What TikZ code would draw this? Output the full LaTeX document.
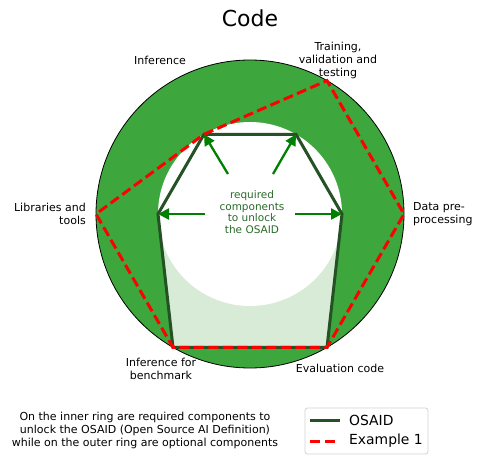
\documentclass[tikz,border=0pt]{standalone}
\usepackage{fontspec}
\setmainfont{DejaVu Sans}
\usetikzlibrary{arrows.meta}
\definecolor{ringgreen}{HTML}{3DA63D}
\definecolor{lightfill}{HTML}{D8EBD6}
\definecolor{osaidline}{HTML}{245224}
\definecolor{arrowgreen}{HTML}{008000}
\definecolor{centertext}{HTML}{2A6A2A}
\tikzset{
  lbl/.style={font=\fontsize{11}{13}\selectfont, align=center, inner sep=0pt},
  osaid/.style={draw=osaidline, line width=3pt, line join=miter},
  example/.style={draw=red, line width=3pt, dash pattern=on 10pt off 4.5pt},
  reqarrow/.style={draw=arrowgreen, line width=2.3pt, -{Triangle[length=11pt,width=11pt]}},
}
\begin{document}
\begin{tikzpicture}[x=1pt,y=-1pt]
\useasboundingbox (0,0) rectangle (483,464);
\coordinate (C) at (250,214);
% inner points
\coordinate (i60) at (296,134.3);
\coordinate (i120) at (204,134.3);
\coordinate (i0) at (342,214);
\coordinate (i180) at (158,214);
% outer points
\coordinate (o60) at (327,80.6);
\coordinate (o0) at (404,214);
\coordinate (om60) at (327,347.4);
\coordinate (om120) at (173,347.4);
\coordinate (o180) at (96,214);
% rings
\fill[ringgreen] (C) circle[radius=154];
\fill[lightfill] (i120) -- (i60) -- (i0) -- (om60) -- (om120) -- (i180) -- cycle;
\fill[white] (C) circle[radius=92];
\draw[black, line width=0.8pt] (C) circle[radius=154];
% OSAID polygon
\draw[osaid] (i120) -- (i60) -- (i0) -- (om60) -- (om120) -- (i180) -- cycle;
% Example 1
\draw[example] (i120) -- (o60) -- (o0) -- (om60) -- (om120) -- (o180) -- cycle;
% title
\node[font=\fontsize{22}{26}\selectfont, inner sep=0pt] (title) at (250,18) {Code};
% axis labels
\node[lbl] (inf) at (160,60) {Inference};
\node[lbl] (train) at (338,60) {Training,\\validation and\\testing};
\node[lbl, anchor=west, align=left] (data) at (413,214) {Data pre-\\processing};
\node[lbl] (eval) at (340,368) {Evaluation code};
\node[lbl] (bench) at (161,369) {Inference for\\benchmark};
\node[lbl, anchor=east, align=right] (lib) at (86,214) {Libraries and\\tools};
% center text
\node[lbl, text=centertext, font=\fontsize{10.5}{11.8}\selectfont] (req) at (252,212) {required\\components\\to unlock\\the OSAID};
\coordinate (a1) at (228,174);
\coordinate (a2) at (273,174);
\coordinate (a3) at (205,214);
\coordinate (a4) at (295,214);
\draw[reqarrow] (a1) -- (i120);
\draw[reqarrow] (a2) -- (i60);
\draw[reqarrow] (a3) -- (i180);
\draw[reqarrow] (a4) -- (i0);
% bottom note
\node[lbl] (note) at (145,430) {On the inner ring are required components to\\unlock the OSAID (Open Source AI Definition)\\while on the outer ring are optional components};
% legend
\node[draw=black!18, line width=0.8pt, rounded corners=2.5pt, minimum width=123pt, minimum height=46pt, inner sep=0pt] (legend) at (366.5,431) {};
\coordinate (l1a) at (310,420);
\coordinate (l1b) at (340,420);
\coordinate (l2a) at (310,441);
\coordinate (l2b) at (340,441);
\draw[osaid] (l1a) -- (l1b);
\draw[red, line width=3pt, dash pattern=on 10pt off 5pt] (l2a) -- (l2b);
\node[anchor=west, font=\fontsize{13.9}{16}\selectfont, inner sep=0pt] (lt1) at (349,420) {OSAID};
\node[anchor=west, font=\fontsize{13.9}{16}\selectfont, inner sep=0pt] (lt2) at (349,441) {Example 1};
\end{tikzpicture}
\end{document}
